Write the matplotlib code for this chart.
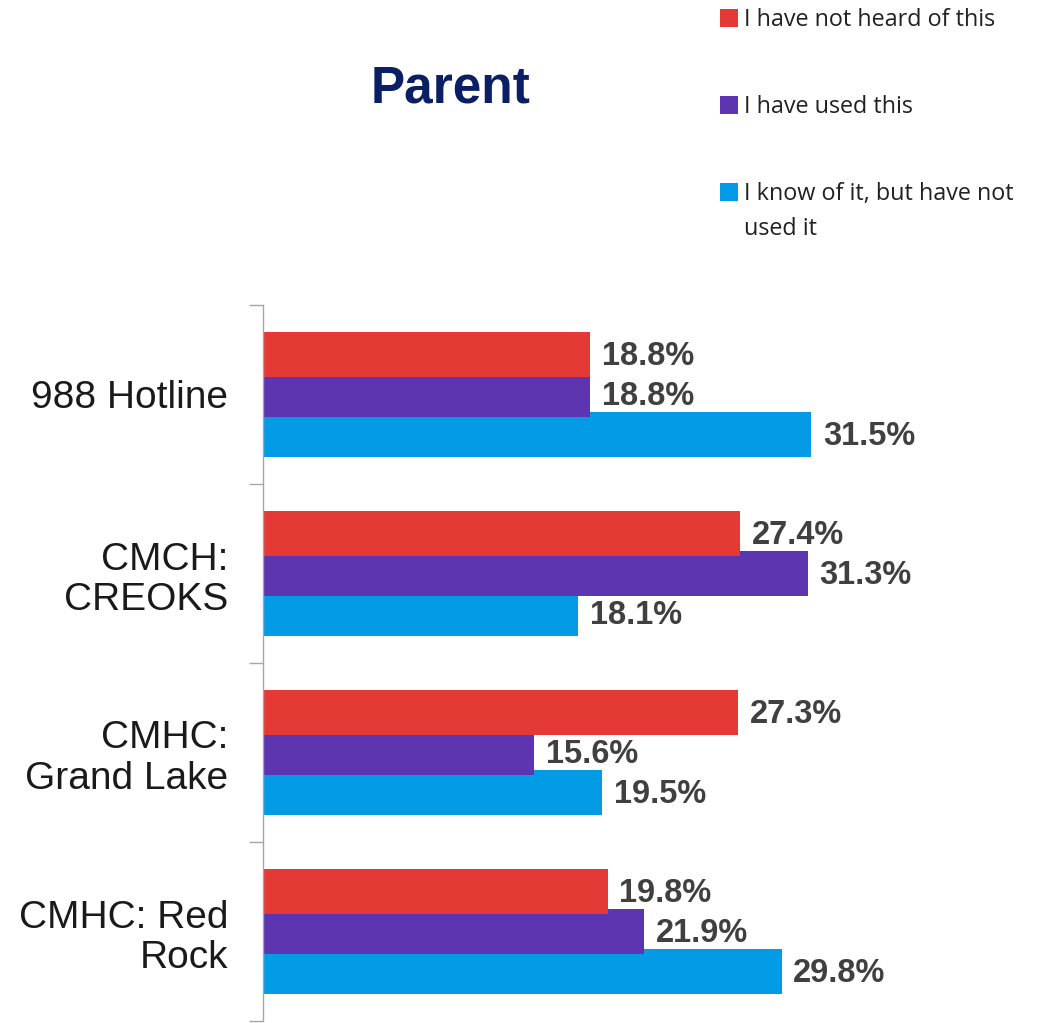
import matplotlib
matplotlib.use('Agg')
import numpy as np
import matplotlib.pyplot as plt
from matplotlib.patches import Rectangle

C_NOT_HEARD = '#e53935'
C_USED = '#5e35b1'
C_KNOW = '#039be5'

categories = ['988 Hotline', 'CMCH:\nCREOKS', 'CMHC:\nGrand Lake', 'CMHC: Red\nRock']
not_heard = [18.8, 27.4, 27.3, 19.8]
used = [18.8, 31.3, 15.6, 21.9]
know_of = [31.5, 18.1, 19.5, 29.8]
legend_labels = ['I have not heard of this', 'I have used this',
                 'I know of it, but have not\nused it']

plt.rcParams['font.family'] = ['Liberation Sans', 'DejaVu Sans']

fig = plt.figure(figsize=(10.44, 10.23), dpi=100)
W, H = 1044, 1023

# axes placed in pixel terms to match the reference layout
ax = fig.add_axes([263 / W, 1 - 1021 / H, (1000 - 263) / W, (1021 - 305) / H])

y = np.arange(len(categories)) + 0.5
off = 0.2235
h = 0.251

# blue first, red last so red sits on top
series = [(know_of, C_KNOW, off), (used, C_USED, 0.0), (not_heard, C_NOT_HEARD, -off)]
for vals, col, dy in series:
    ax.barh(y + dy, vals, height=h, color=col, edgecolor='none')
    for yy, v in zip(y + dy, vals):
        ax.annotate(f'{v:.1f}%', (v, yy), xytext=(8.5, -1.5), textcoords='offset points',
                    ha='left', va='center', fontsize=23.5, fontweight='bold', color='#404040')

ax.set_xlim(0, (1000 - 263) / 17.4)
ax.set_ylim(4, 0)
ax.set_xticks([])
ax.set_yticks(y)
ax.set_yticklabels(categories, fontsize=28, color='#1a1a1a', ha='right',
                   multialignment='right', linespacing=1.15)
ax.set_yticks(np.arange(0, 5), minor=True)
ax.tick_params(axis='y', which='major', length=0, pad=25)
ax.tick_params(axis='y', which='minor', length=10, color='#a6a6a6', width=1)
for s in ['top', 'right', 'bottom']:
    ax.spines[s].set_visible(False)
ax.spines['left'].set_color('#a6a6a6')
ax.spines['left'].set_linewidth(1)

fig.text(451 / W, 1 - 89 / H, 'Parent', ha='center', va='center', fontsize=37,
         fontweight='bold', color='#0b1f65')

# legend drawn by hand at the top right
leg_y = [18, 105, 192]
for lab, col, ly in zip(legend_labels, [C_NOT_HEARD, C_USED, C_KNOW], leg_y):
    fig.add_artist(Rectangle((720 / W, 1 - (ly + 9) / H), 18 / W, 18 / H,
                             transform=fig.transFigure, color=col, lw=0))
    fig.text(744 / W, 1 - (ly - 10) / H, lab, ha='left', va='top', fontsize=16.8,
             color='#222222', family=['Open Sans', 'DejaVu Sans'], linespacing=1.6)

fig.savefig('out.png', dpi=100, facecolor='white')
